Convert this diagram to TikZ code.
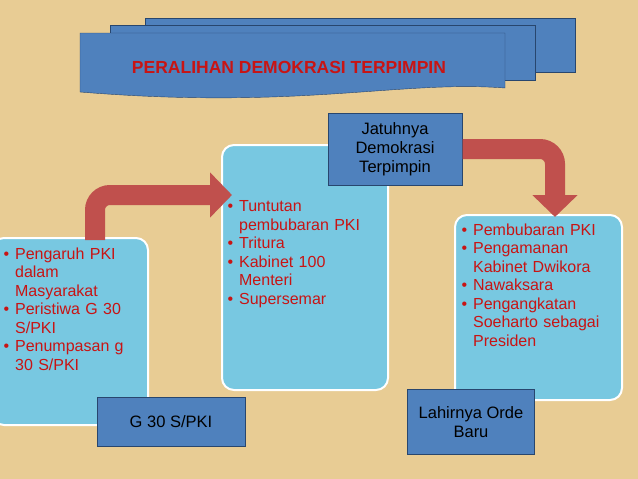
\documentclass[tikz,border=0pt]{standalone}
\usepackage{fontspec}
\setmainfont{Liberation Sans}
\usetikzlibrary{arrows.meta}
\definecolor{bg}{RGB}{232,204,148}
\definecolor{drop}{RGB}{120,200,225}
\definecolor{lbl}{RGB}{79,129,189}
\definecolor{lbld}{RGB}{40,70,110}
\definecolor{txt}{RGB}{200,20,20}
\definecolor{arr}{RGB}{192,80,77}
\tikzset{
  dropbox/.style={draw=white,line width=2pt,fill=drop,rounded corners=12pt},
  lblbox/.style={draw=lbld,line width=1pt,fill=lbl,text=black,align=center,font=\fontsize{16.5}{19}\selectfont},
  items/.style={text=txt,font=\fontsize{16}{18.5}\selectfont,align=left,anchor=north west},
  bentarrow/.style={draw=arr,line width=20pt,-{Triangle[length=22pt,width=44pt]}}
}
\newcommand{\bul}{\textbullet\hspace{6pt}}
\newcommand{\ind}{\phantom{\textbullet}\hspace{6pt}}
\begin{document}
\begin{tikzpicture}[x=1pt,y=-1pt]
\useasboundingbox (0,0) rectangle (638,479);
\clip (0,0) rectangle (638,479);
\fill[bg] (0,0) rectangle (638,479);
% banner
\filldraw[fill=lbl,draw=lbld] (145,18) rectangle (575,72);
\filldraw[fill=lbl,draw=lbld] (110,25) rectangle (535,80);
\filldraw[fill=lbl,draw=lbld] (80,33) -- (505,33) -- (505,88) .. controls (400,80) and (300,110) .. (80,92) -- cycle;
\node[text=txt,font=\bfseries\fontsize{17.5}{20}\selectfont] (title) at (289,67) {PERALIHAN DEMOKRASI TERPIMPIN};
% boxes
\draw[dropbox] (-8,238) rectangle (148,425);
\draw[dropbox] (222,145) rectangle (388,390);
\draw[dropbox] (455,215) rectangle (622,400);
% arrows
\coordinate (a1) at (95,240); \coordinate (a2) at (232,195);
\draw[bentarrow,rounded corners=15pt] (a1) -- (95,195) -- (a2);
\node[lblbox,minimum width=134pt,minimum height=72pt] (jat) at (395,149) {Jatuhnya\\Demokrasi\\Terpimpin};
\coordinate (b2) at (555,217);
\draw[bentarrow,rounded corners=15pt] (jat.east) -- (555,149) -- (b2);
\node[items,text width=150pt] (lt) at (0,244) {%
\bul Pengaruh PKI\\\ind dalam\\\ind Masyarakat\\\bul Peristiwa G 30\\\ind S/PKI\\\bul Penumpasan g\\\ind 30 S/PKI};
\node[items,text width=170pt] (mt) at (224,197) {%
\bul Tuntutan\\\ind pembubaran PKI\\\bul Tritura\\\bul Kabinet 100\\\ind Menteri\\\bul Supersemar};
\node[items,text width=170pt] (rt) at (458,220) {%
\bul Pembubaran PKI\\\bul Pengamanan\\\ind Kabinet Dwikora\\\bul Nawaksara\\\bul Pengangkatan\\\ind Soeharto sebagai\\\ind Presiden};
\node[lblbox,minimum width=148pt,minimum height=49pt] (g30) at (171,422) {G 30 S/PKI};
\node[lblbox,minimum width=127pt,minimum height=65pt] (orde) at (471,422) {Lahirnya Orde\\Baru};
\end{tikzpicture}
\end{document}
